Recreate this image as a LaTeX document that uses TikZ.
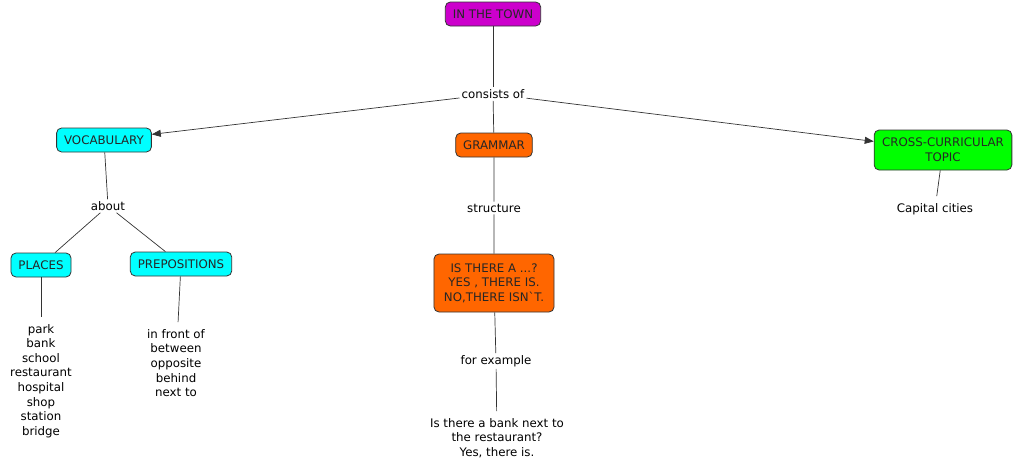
\documentclass[tikz,border=0pt]{standalone}
\usepackage{fontspec}
\setmainfont{DejaVu Sans}
\usetikzlibrary{arrows.meta}
\definecolor{townpink}{RGB}{204,0,204}
\definecolor{vocabcyan}{RGB}{0,255,255}
\definecolor{gramorange}{RGB}{255,102,0}
\definecolor{crossgreen}{RGB}{0,255,0}
\begin{document}
\begin{tikzpicture}[x=1pt,y=-1pt,
    every node/.style={font=\fontsize{11.8}{14.6}\selectfont, align=center},
    concept/.style={draw=black!80, line width=0.8pt, rounded corners=5pt, inner xsep=7.5pt, minimum height=24pt, text=black!85},
    phrase/.style={fill=white, inner sep=2pt},
    words/.style={inner sep=7pt},
    link/.style={black!80, line width=0.7pt},
    arrow/.style={link, -{Triangle[length=9pt,width=7pt]}}]
    \useasboundingbox (0,0) rectangle (1018,469);

    % Concepts
    \node[concept, fill=townpink] (town) at (493,14) {IN THE TOWN};
    \node[concept, fill=vocabcyan] (vocab) at (104,140) {VOCABULARY};
    \node[concept, fill=gramorange] (grammar) at (494,145) {GRAMMAR};
    \node[concept, fill=crossgreen, minimum height=40pt, inner xsep=8pt] (cross) at (943,150) {CROSS-CURRICULAR\\TOPIC};
    \node[concept, fill=vocabcyan] (places) at (41,265) {PLACES};
    \node[concept, fill=vocabcyan] (prep) at (181,264) {PREPOSITIONS};
    \node[concept, fill=gramorange, minimum height=58pt, inner xsep=10pt] (isthere) at (494,283) {IS THERE A ...?\\YES , THERE IS.\\NO,THERE ISN\textasciigrave T.};

    % Linking phrases
    \node[phrase] (consists) at (493,94) {consists of};
    \node[phrase] (about) at (108,206) {about};
    \node[phrase] (structure) at (494,208) {structure};
    \node[phrase] (example) at (496,361) {for example};

    % Word lists
    \node[words] (placelist) at (41,381) {park\\bank\\school\\restaurant\\hospital\\shop\\station\\bridge};
    \node[words] (preplist) at (176,363) {in front of\\between\\opposite\\behind\\next to};
    \node[words] (capital) at (935,209) {Capital cities};
    \node[words] (bank) at (497,438) {Is there a bank next to\\the restaurant?\\Yes, there is.};

    % Links
    \draw[link] (town)--(consists);
    \draw[arrow] (consists)--(vocab);
    \draw[link] (consists)--(grammar);
    \draw[arrow] (consists)--(cross);
    \draw[link] (vocab)--(about);
    \draw[link] (about)--(places);
    \draw[link] (about)--(prep);
    \draw[link] (places)--(placelist);
    \draw[link] (prep)--(preplist);
    \draw[link] (grammar)--(structure)--(isthere)--(example)--(bank);
    \draw[link] (cross)--(capital);
\end{tikzpicture}
\end{document}
